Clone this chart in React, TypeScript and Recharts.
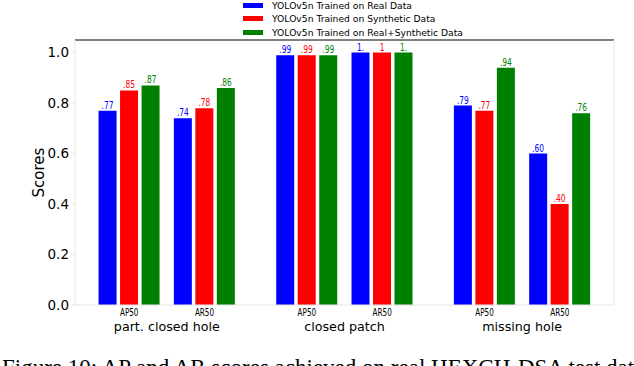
import React from 'react';
import { BarChart, Bar, XAxis, YAxis, Legend, LabelList, ReferenceLine } from 'recharts';

const categories = ['part. closed hole', 'closed patch', 'missing hole'];
const metrics = ['AP50', 'AR50'];
const seriesNames = [
  'YOLOv5n Trained on Real Data',
  'YOLOv5n Trained on Synthetic Data',
  'YOLOv5n Trained on Real+Synthetic Data',
];
// one value per (category, metric), in that order
const realScores = [0.77, 0.74, 0.99, 1.0, 0.79, 0.6];
const synthScores = [0.85, 0.78, 0.99, 1.0, 0.77, 0.4];
const mixedScores = [0.87, 0.86, 0.99, 1.0, 0.94, 0.76];
const realLabels = ['.77', '.74', '.99', '1.', '.79', '.60'];
const synthLabels = ['.85', '.78', '.99', '1', '.77', '.40'];
const mixedLabels = ['.87', '.86', '.99', '1.', '.94', '.76'];
const yTicks = [0, 0.2, 0.4, 0.6, 0.8, 1.0];
const caption = 'Figure 10: AP and AR scores achieved on real HEXCH-DSA test data.';

const FONT = '"DejaVu Sans", sans-serif';
const AXIS = '#e6e6e6';
const COLORS = ['#0000ff', '#ff0000', '#008000'];
const GROUP_STEP = 2.36;
const X_PAD = 0.72;
const X_MIN = -X_PAD;
const X_MAX = (categories.length - 1) * GROUP_STEP + (metrics.length - 1) + X_PAD;
const Y_MAX = 1.05;

const rows = categories.flatMap((cat, c) =>
  metrics.map((m, k) => {
    const i = c * metrics.length + k;
    return {
      x: c * GROUP_STEP + k,
      metric: m,
      real: realScores[i],
      synth: synthScores[i],
      mixed: mixedScores[i],
      realLabel: realLabels[i],
      synthLabel: synthLabels[i],
      mixedLabel: mixedLabels[i],
    };
  })
);
const metricTicks = rows.map((r) => r.x);
const catCenters = categories.map((_, c) => c * GROUP_STEP + (metrics.length - 1) / 2);

const MetricTick = (props: any) => {
  const { x, y, payload } = props;
  const row = rows.find((r) => Math.abs(r.x - payload.value) < 1e-6);
  return (
    <text transform={`translate(${x},${y + 10.5}) scale(0.66,1)`} textAnchor="middle" fontSize={11} fontFamily={FONT} fill="#000">
      {row ? row.metric : ''}
    </text>
  );
};

// category name under each pair of bars, placed via a reference line's position
const CatLabel = (props: any) => {
  const vb = props.viewBox || {};
  return (
    <text x={vb.x} y={vb.y + vb.height + 26} textAnchor="middle" fontSize={12.7} fontFamily={FONT} fill="#000">
      {props.text}
    </text>
  );
};

const valueLabel = (color: string) => (props: any) => {
  const { x, y, width, value } = props;
  return (
    <text transform={`translate(${x + width / 2},${y - 2}) scale(0.68,1)`} textAnchor="middle" fontSize={11} fontFamily={FONT} fill={color}>
      {value}
    </text>
  );
};

const YTitle = (props: any) => {
  const vb = props.viewBox || { y: 40, height: 265 };
  const cy = vb.y + vb.height / 2;
  return (
    <text x={39} y={cy} transform={`rotate(-90,39,${cy})`} textAnchor="middle" dominantBaseline="central" fontSize={15} fontFamily={FONT} fill="#000">
      Scores
    </text>
  );
};

const LegendBox = (props: any) => {
  const items = [...(props.payload || [])].sort(
    (a: any, b: any) => seriesNames.indexOf(a.value) - seriesNames.indexOf(b.value)
  );
  return (
    <div style={{ fontFamily: FONT, fontSize: 9.2, color: '#000' }}>
      {items.map((p: any) => (
        <div key={p.value} style={{ display: 'flex', alignItems: 'center', whiteSpace: 'nowrap', height: 13.5 }}>
          <span style={{ display: 'inline-block', width: 20, height: 5, background: p.color, marginRight: 9 }} />
          <span>{p.value}</span>
        </div>
      ))}
    </div>
  );
};

export default function App() {
  return (
    <div style={{ position: 'absolute', left: 0, top: 0, width: 634, height: 366, overflow: 'hidden', background: '#fff' }}>
      <BarChart width={634} height={366} data={rows} margin={{ top: 40, right: 20, left: 0, bottom: 0 }} barSize={18} barGap={3.5}>
        <XAxis
          dataKey="x"
          type="number"
          domain={[X_MIN, X_MAX]}
          allowDataOverflow
          ticks={metricTicks}
          interval={0}
          tick={<MetricTick />}
          tickLine={false}
          tickSize={0}
          tickMargin={0}
          axisLine={{ stroke: AXIS }}
          height={61}
        />
        <YAxis
          type="number"
          domain={[0, Y_MAX]}
          ticks={yTicks}
          tickFormatter={(v: number) => v.toFixed(1)}
          tick={{ fontSize: 13.5, fontFamily: FONT, fill: '#000' }}
          tickSize={4}
          tickMargin={2}
          tickLine={{ stroke: AXIS }}
          axisLine={{ stroke: AXIS }}
          width={75}
          label={<YTitle />}
        />
        <ReferenceLine y={Y_MAX} stroke="#000" strokeWidth={1} />
        <ReferenceLine x={X_MAX} stroke={AXIS} strokeWidth={1} />
        {catCenters.map((cx, c) => (
          <ReferenceLine key={categories[c]} x={cx} stroke="none" label={<CatLabel text={categories[c]} />} />
        ))}
        <Legend
          layout="vertical"
          align="center"
          verticalAlign="middle"
          content={<LegendBox />}
          wrapperStyle={{ top: -1.5, left: 243, width: 'auto', height: 'auto' }}
        />
        <Bar dataKey="real" name={seriesNames[0]} fill={COLORS[0]} isAnimationActive={false}>
          <LabelList dataKey="realLabel" content={valueLabel(COLORS[0])} />
        </Bar>
        <Bar dataKey="synth" name={seriesNames[1]} fill={COLORS[1]} isAnimationActive={false}>
          <LabelList dataKey="synthLabel" content={valueLabel(COLORS[1])} />
        </Bar>
        <Bar dataKey="mixed" name={seriesNames[2]} fill={COLORS[2]} isAnimationActive={false}>
          <LabelList dataKey="mixedLabel" content={valueLabel(COLORS[2])} />
        </Bar>
      </BarChart>
      <div
        style={{
          position: 'absolute',
          left: 2,
          top: 356,
          whiteSpace: 'nowrap',
          fontFamily: '"Liberation Serif", serif',
          fontSize: 23,
          lineHeight: '23px',
          color: '#000',
        }}
      >
        {caption}
      </div>
    </div>
  );
}
